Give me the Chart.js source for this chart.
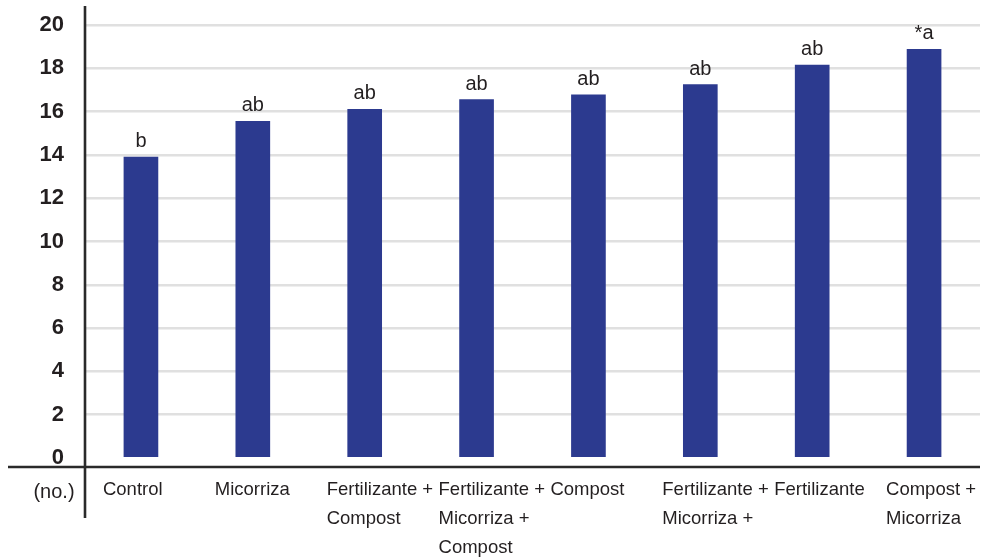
<!DOCTYPE html>
<html>
<head>
<meta charset="utf-8">
<script src="https://cdn.jsdelivr.net/npm/chart.js@4/dist/chart.umd.min.js"></script>
<style>
  html, body { margin: 0; padding: 0; background: #ffffff; }
  #wrap { width: 1004px; height: 559px; position: relative; }
  canvas { display: block; }
</style>
</head>
<body>
<div id="wrap"><canvas id="chart" width="1004" height="559"></canvas></div>
<script>
// Treatments along the horizontal axis (multi-line labels)
const categories = [
  ['Control'],
  ['Micorriza'],
  ['Fertilizante +', 'Compost'],
  ['Fertilizante +', 'Micorriza +', 'Compost'],
  ['Compost'],
  ['Fertilizante +', 'Micorriza +'],
  ['Fertilizante'],
  ['Compost +', 'Micorriza']
];

// Mean count per treatment
const counts = [13.9, 15.55, 16.1, 16.55, 16.78, 17.25, 18.15, 18.88];

// Significance letters shown above each bar
const letters = ['b', 'ab', 'ab', 'ab', 'ab', 'ab', 'ab', '*a'];

// Value-axis tick labels
const yTicks = [0, 2, 4, 6, 8, 10, 12, 14, 16, 18, 20];

const TEXT = '#231f20';
const BAR = '#2c3a8f';
const FONT = "'Liberation Sans', Arial, Helvetica, sans-serif";

// Axis lines that reach past the plotting area, the unit label and the letters
const decorations = {
  id: 'decorations',
  afterDatasetsDraw(chart) {
    const ctx = chart.ctx;
    const meta = chart.getDatasetMeta(0);
    ctx.save();
    ctx.fillStyle = TEXT;
    ctx.font = '20px ' + FONT;
    ctx.textAlign = 'center';
    ctx.textBaseline = 'alphabetic';
    meta.data.forEach((bar, i) => {
      ctx.fillText(letters[i], bar.x, bar.y - 10);
    });
    ctx.restore();
  },
  afterDraw(chart) {
    const ctx = chart.ctx;
    const area = chart.chartArea;
    ctx.save();
    ctx.strokeStyle = '#2a2a2a';
    ctx.lineWidth = 2.6;
    // horizontal axis line
    ctx.beginPath();
    ctx.moveTo(8, area.bottom + 9);
    ctx.lineTo(area.right, area.bottom + 9);
    ctx.stroke();
    // vertical axis line
    ctx.beginPath();
    ctx.moveTo(area.left, 6);
    ctx.lineTo(area.left, 518);
    ctx.stroke();

    // unit label on the category row
    ctx.fillStyle = TEXT;
    ctx.font = '20px ' + FONT;
    ctx.textAlign = 'center';
    ctx.textBaseline = 'middle';
    ctx.fillText('(no.)', 54, area.bottom + 34);
    ctx.restore();
  }
};

new Chart(document.getElementById('chart'), {
  type: 'bar',
  data: {
    labels: categories,
    datasets: [{
      data: counts,
      backgroundColor: BAR,
      borderWidth: 0,
      barThickness: 34
    }]
  },
  options: {
    responsive: false,
    animation: false,
    devicePixelRatio: 1,
    layout: { padding: { left: 0, right: 24, top: 25, bottom: 0 } },
    plugins: {
      legend: { display: false },
      tooltip: { enabled: false },
      title: { display: false }
    },
    scales: {
      x: {
        grid: { display: false, drawTicks: false },
        border: { display: false },
        ticks: {
          color: TEXT,
          font: { family: FONT, size: 18.5, lineHeight: 1.55 },
          align: 'start',
          labelOffset: -38,
          padding: 18,
          autoSkip: false,
          maxRotation: 0,
          minRotation: 0
        },
        afterFit(scale) {
          scale.height = 101;
          scale.paddingLeft = 0;
          scale.paddingRight = 0;
        }
      },
      y: {
        min: 0,
        max: 20,
        afterBuildTicks(scale) {
          scale.ticks = yTicks.map(v => ({ value: v }));
        },
        grid: {
          drawTicks: false,
          color: (c) => (c.tick && c.tick.value === 0) ? 'rgba(0,0,0,0)' : '#e0e0e0',
          lineWidth: 2.5
        },
        border: { display: false },
        ticks: {
          color: TEXT,
          font: { family: FONT, size: 22, weight: 'bold' },
          padding: 21
        },
        afterFit(scale) {
          scale.width = 85;
          scale.paddingTop = 0;
          scale.paddingBottom = 0;
        }
      }
    }
  },
  plugins: [decorations]
});
</script>
</body>
</html>
